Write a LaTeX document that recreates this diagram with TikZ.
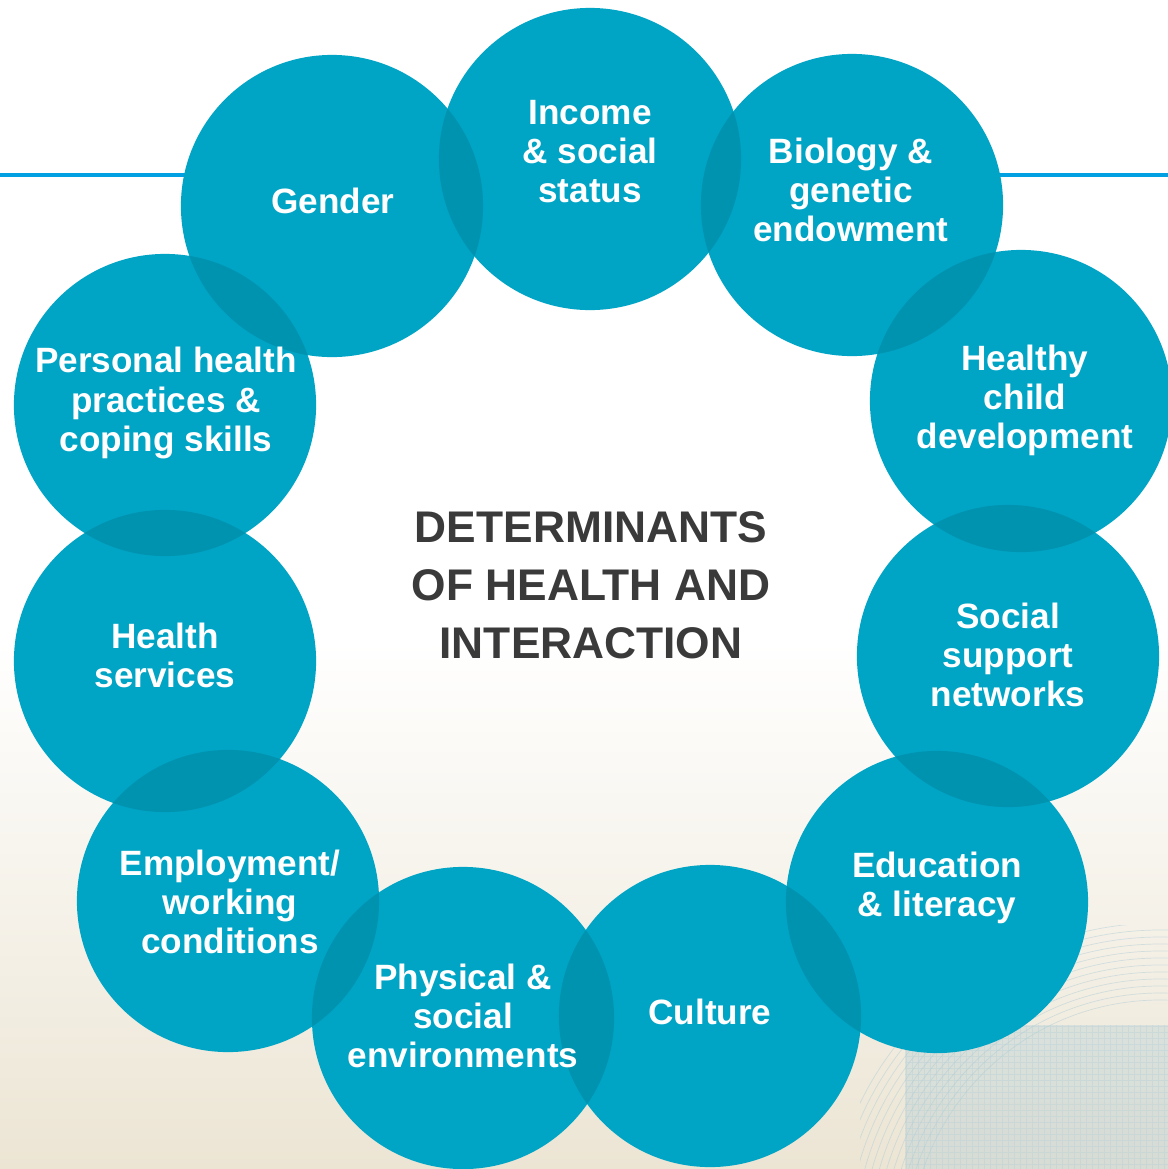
\documentclass[tikz,border=0pt]{standalone}
\usepackage{fontspec}
\setsansfont{Liberation Sans}
\usetikzlibrary{positioning}

\definecolor{ringteal}{RGB}{0,164,197}
\definecolor{ringdark}{RGB}{0,147,176}
\definecolor{ruleblue}{RGB}{0,160,226}
\definecolor{sandbg}{RGB}{236,229,212}
\definecolor{gridtint}{RGB}{176,205,214}
\definecolor{titlegray}{RGB}{58,58,58}

\tikzset{
  ring/.style={circle, fill=ringteal, minimum size=3.02cm, inner sep=0pt},
  ringlabel/.style={text=white, inner sep=0pt, align=center,
    font=\sffamily\bfseries\fontsize{10}{11.1}\selectfont},
  centretitle/.style={text=titlegray, inner sep=0pt, align=center,
    font=\sffamily\bfseries\fontsize{12.6}{16.5}\selectfont}
}

\begin{document}
\begin{tikzpicture}[x=0.01cm, y=-0.01cm]
    \useasboundingbox (0,0) rectangle (1168,1169);

    % Background
    \fill[white] (0,0) rectangle (1168,1169);
    \shade[top color=white, bottom color=sandbg] (0,640) rectangle (1168,1169);

    % Faint globe pattern, lower right
    \begin{scope}
      \clip (860,925) rectangle (1168,1169);
      \fill[gridtint, opacity=0.35] (905,1025) rectangle (1168,1169);
      \draw[gridtint, opacity=0.35, very thin, step=0.06cm] (905,1025) grid (1168,1169);
      \foreach \r in {250,257,...,340} {
        \draw[gridtint, opacity=0.5, very thin] (1160,1250) circle (\r*0.01cm);
      }
    \end{scope}

    % Blue rule behind the ring
    \coordinate (ruleL) at (0,175);
    \coordinate (ruleR) at (1168,175);
    \draw[ruleblue, line width=0.04cm] (ruleL) -- (ruleR);

    % Ring of circles
    \foreach \n/\cx/\cy in {income/590/159, biology/852/205, child/1021/401,
        support/1008/656, education/937/902, culture/710/1016, physical/463/1018,
        employment/228/901, services/165/661, personal/165/405, gender/332/206} {
      \node[ring] (\n) at (\cx,\cy) {};
    }

    % Darker overlaps of neighbours
    \foreach \a/\b in {income/biology, biology/child, child/support, support/education,
        education/culture, culture/physical, physical/employment, employment/services,
        services/personal, personal/gender, gender/income} {
      \begin{scope}
        \clip (\a.center) circle (1.51cm);
        \fill[ringdark] (\b.center) circle (1.51cm);
      \end{scope}
    }

    % Labels
    \foreach \n/\tx/\ty/\txt in {income/590/152/{Income\\\& social\\status},
        biology/851/190/{Biology \&\\genetic\\endowment},
        child/1025/400/{Healthy\\child\\development},
        support/1008/655/{Social\\support\\networks},
        education/937/888/{Education\\\& literacy},
        culture/710/1012/{Culture},
        physical/463/1016/{Physical \&\\social\\environments},
        employment/230/902/{Employment/\\working\\conditions},
        services/165/655/{Health\\services},
        personal/166/403/{Personal health\\practices \&\\coping skills},
        gender/333/201/{Gender}} {
      \node[ringlabel] (\n-text) at (\tx,\ty) {\txt};
    }

    \node[centretitle] (title) at (591,585) {DETERMINANTS\\OF HEALTH AND\\INTERACTION};
\end{tikzpicture}
\end{document}
